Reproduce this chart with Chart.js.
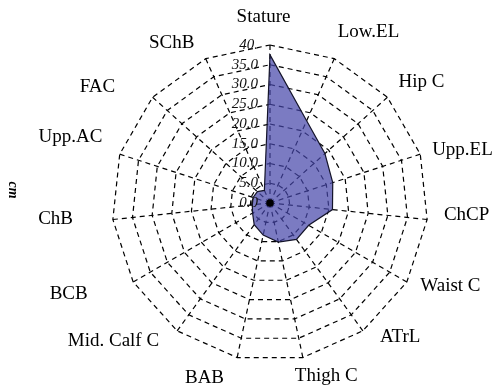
<!DOCTYPE html>
<html>
<head>
<meta charset="utf-8">
<script src="https://cdn.jsdelivr.net/npm/chart.js@4/dist/chart.umd.min.js"></script>
<style>
  html, body { margin: 0; padding: 0; background: #fff; }
  #wrap { width: 494px; height: 391px; position: relative; }
</style>
</head>
<body>
<div id="wrap"><canvas id="c"></canvas></div>
<script>
// Body measurement profile (cm)
const categories = ['Stature', 'Low.EL', 'Hip C', 'Upp.EL', 'ChCP', 'Waist C', 'ATrL', 'Thigh C',
                    'BAB', 'Mid. Calf C', 'BCB', 'ChB', 'Upp.AC', 'FAC', 'SChB'];
const values = [37.5, 22.8, 18.7, 16.7, 15.9, 11.3, 11.4, 10.1, 8.3, 6.8, 5.1, 4.5, 4.5, 4.3, 3.5];
const tickValues = [0, 5, 10, 15, 20, 25, 30, 35, 40];
const tickLabels = ['0.0', '5.0', '10.0', '15.0', '20.0', '25.0', '30.0', '35.0', '40.'];
const axisTitle = 'cm';

// Where each category name sits: [angle in degrees clockwise from top, distance / radius]
const labelPlacement = [
  [358, 1.175], [30, 1.247], [51.5, 1.225], [74.7, 1.263], [93.6, 1.247],
  [114.6, 1.256], [135.9, 1.184], [162, 1.152], [200.5, 1.184], [228.5, 1.323],
  [245.6, 1.399], [265.6, 1.361], [288.2, 1.329], [303.8, 1.314], [328.5, 1.19]
];

const decor = {
  id: 'decor',
  afterDatasetsDraw(chart) {
    const s = chart.scales.r;
    const ctx = chart.ctx;
    ctx.save();

    // radial tick labels along the first spoke
    ctx.font = 'italic 15px "Liberation Serif"';
    ctx.fillStyle = '#111';
    ctx.textAlign = 'right';
    ctx.textBaseline = 'middle';
    tickValues.forEach((v, i) => {
      const p = s.getPointPosition(0, s.getDistanceFromCenterForValue(v));
      ctx.fillText(tickLabels[i], p.x - 12, p.y);
    });

    // hub
    ctx.beginPath();
    ctx.arc(s.xCenter, s.yCenter, 3.8, 0, Math.PI * 2);
    ctx.fillStyle = '#000';
    ctx.fill();

    // category names
    ctx.font = '19px "Liberation Serif"';
    ctx.textAlign = 'center';
    ctx.fillStyle = '#000';
    categories.forEach((name, i) => {
      const [deg, f] = labelPlacement[i];
      const a = deg * Math.PI / 180;
      const r = s.drawingArea * f;
      ctx.fillText(name, s.xCenter + r * Math.sin(a), s.yCenter - r * Math.cos(a));
    });

    // axis title
    ctx.translate(13, 190);
    ctx.rotate(Math.PI / 2);
    ctx.font = 'bold italic 14px "Liberation Serif"';
    ctx.fillText(axisTitle, 0, 0);
    ctx.restore();
  }
};

new Chart(document.getElementById('c'), {
  type: 'radar',
  data: {
    labels: categories,
    datasets: [{
      data: values,
      backgroundColor: 'rgba(70,70,170,0.714)',
      borderColor: '#14142a',
      borderWidth: 1.2,
      pointRadius: 0,
      tension: 0,
      fill: true
    }]
  },
  options: {
    responsive: true,
    maintainAspectRatio: false,
    devicePixelRatio: 1,
    animation: false,
    layout: { padding: { left: 100, right: 53, top: 45, bottom: 29 } },
    plugins: { legend: { display: false }, tooltip: { enabled: false } },
    scales: {
      r: {
        min: 0,
        max: 40,
        ticks: { display: false, stepSize: 5 },
        pointLabels: { display: false },
        grid: { color: '#000', lineWidth: 1.2 },
        border: { dash: [5, 4] },
        angleLines: { color: '#000', lineWidth: 1.2, borderDash: [5, 4] }
      }
    }
  },
  plugins: [decor]
});
</script>
</body>
</html>
